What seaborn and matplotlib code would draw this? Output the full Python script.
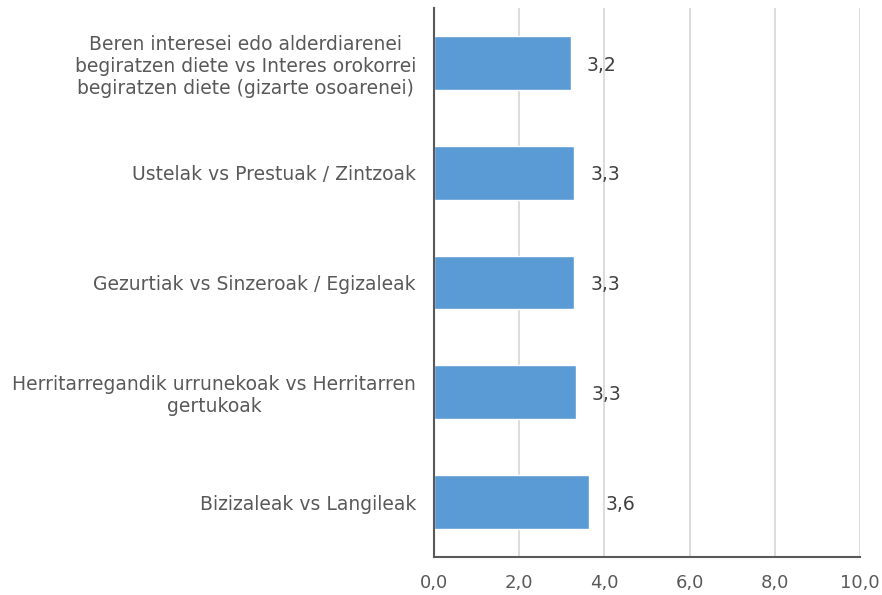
import seaborn as sns
import matplotlib.pyplot as plt
import pandas as pd

# Data
categories = [
    "Beren interesei edo alderdiarenei\nbegiratzen diete vs Interes orokorrei\nbegiratzen diete (gizarte osoarenei)",
    "Ustelak vs Prestuak / Zintzoak",
    "Gezurtiak vs Sinzeroak / Egizaleak",
    "Herritarregandik urrunekoak vs Herritarren\ngertukoak",
    "Bizizaleak vs Langileak",
]
values = [3.21, 3.29, 3.29, 3.33, 3.64]
value_labels = ["3,2", "3,3", "3,3", "3,3", "3,6"]
x_ticks = [0, 2, 4, 6, 8, 10]
x_tick_labels = ["0,0", "2,0", "4,0", "6,0", "8,0", "10,0"]

df = pd.DataFrame({"Category": categories, "Value": values})

sns.set_style("white")
plt.rcParams['font.family'] = ['DejaVu Sans']

fig = plt.figure(figsize=(8.82, 5.95), dpi=100)
ax = fig.add_axes([434 / 882, 1 - 557 / 595, (860 - 434) / 882, (557 - 8) / 595])

sns.barplot(data=df, x="Value", y="Category", orient="h", color="#5B9BD5",
            saturation=1, width=0.49, ax=ax)

for i, (v, lab) in enumerate(zip(values, value_labels)):
    ax.text(v + 0.38, i + 0.02, lab, va="center", ha="left", fontsize=13.5, color="#404040")

ax.set_xlim(0, 10)
ax.set_ylim(4.5, -0.5)
ax.set_xticks(x_ticks)
ax.set_xticklabels(x_tick_labels, fontsize=13, color="#595959")
ax.tick_params(axis="y", labelsize=13.5, labelcolor="#595959", length=0, pad=13)
ax.tick_params(axis="x", length=0, pad=12)
for lab in ax.get_yticklabels():
    lab.set_horizontalalignment("right")
    lab.set_multialignment("center")
ax.set_xlabel("")
ax.set_ylabel("")

ax.xaxis.grid(True, color="#d9d9d9", linewidth=1.3)
ax.set_axisbelow(True)
for s in ["top", "right"]:
    ax.spines[s].set_visible(False)
for s in ["left", "bottom"]:
    ax.spines[s].set_color("#595959")
    ax.spines[s].set_linewidth(1.5)

plt.savefig("out.png", dpi=100)
